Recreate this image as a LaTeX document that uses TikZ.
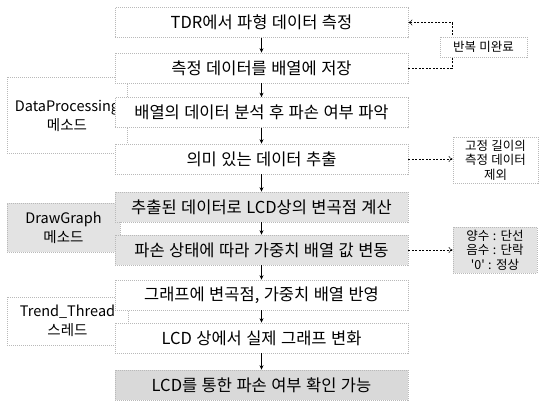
\documentclass[tikz,border=0pt]{standalone}
\usepackage{fontspec}
\setmainfont{Noto Sans CJK KR}
\newfontfamily\mainf[WordSpace=1.3]{Noto Sans CJK KR}
\newfontfamily\notef[WordSpace=1.2]{Noto Sans CJK KR}
\usetikzlibrary{arrows.meta}
\begin{document}
\begin{tikzpicture}[x=1pt,y=-1pt,
  box/.style={draw=gray!55, dash pattern=on 1pt off 1pt, line width=0.7pt, fill=white, inner sep=0pt, align=center},
  mainbox/.style={box, minimum width=293pt, minimum height=30pt, font=\mainf\fontsize{16.5}{18}\selectfont},
  shaded/.style={fill=gray!22},
  sidebox/.style={box, font=\fontsize{14.5}{19}\selectfont},
  notebox/.style={box, font=\notef\fontsize{12.5}{14.5}\selectfont},
  flow/.style={-{Stealth[length=4.5pt,width=4pt]}, line width=0.6pt},
  note/.style={dash pattern=on 2pt off 1.5pt, line width=0.5pt, -{To[length=4pt,width=6pt]}}
]
\fill[white] (0,0) rectangle (549,402);
\useasboundingbox (0,0) rectangle (549,402);

% left method boxes (behind)
\node[sidebox, minimum width=120pt, minimum height=76pt, text depth=-8pt] (m1) at (67,115) {DataProcessing\\메소드};
\node[sidebox, shaded, minimum width=113pt, minimum height=49pt] (m2) at (63.5,227.5) {DrawGraph\\메소드};
\node[sidebox, minimum width=121pt, minimum height=48pt] (m3) at (67.5,321) {Trend\_Thread\\스레드};

% main flow boxes
\node[mainbox] (b1) at (261.5,22.5) {TDR에서 파형 데이터 측정};
\node[mainbox] (b2) at (261.5,68) {측정 데이터를 배열에 저장};
\node[mainbox] (b3) at (261.5,112.5) {배열의 데이터 분석 후 파손 여부 파악};
\node[mainbox] (b4) at (261.5,159) {의미 있는 데이터 추출};
\node[mainbox, shaded] (b5) at (261.5,207) {추출된 데이터로 LCD상의 변곡점 계산};
\node[mainbox, shaded] (b6) at (261.5,250) {파손 상태에 따라 가중치 배열 값 변동};
\node[mainbox] (b7) at (261.5,295) {그래프에 변곡점, 가중치 배열 반영};
\node[mainbox] (b8) at (261.5,338) {LCD 상에서 실제 그래프 변화};
\node[mainbox, fill=gray!30] (b9) at (261.5,385) {LCD를 통한 파손 여부 확인 가능};

\draw[flow] (b1) -- (b2);
\draw[flow] (b2) -- (b3);
\draw[flow] (b3) -- (b4);
\draw[flow] (b4) -- (b5);
\draw[flow] (b5) -- (b6);
\draw[flow] (b6) -- (b7);
\draw[flow] (b7) -- (b8);
\draw[flow] (b8) -- (b9);

% repeat loop
\draw[note] (b2.east) -- ++(44,0) |- (b1.east);
\node[notebox, minimum width=87pt, minimum height=20pt] (n1) at (483.5,47) {반복 미완료};

% side notes
\node[notebox, minimum width=85pt, minimum height=46pt] (n2) at (495.5,160) {고정 길이의\\측정 데이터\\제외};
\node[notebox, shaded, minimum width=84pt, minimum height=46pt] (n3) at (495,250) {양수 : 단선\\음수 : 단락\\'0' : 정상};
\draw[note] (b4.east) -- (n2.west |- b4.east);
\draw[note] (b6.east) -- (n3.west |- b6.east);
\end{tikzpicture}
\end{document}
